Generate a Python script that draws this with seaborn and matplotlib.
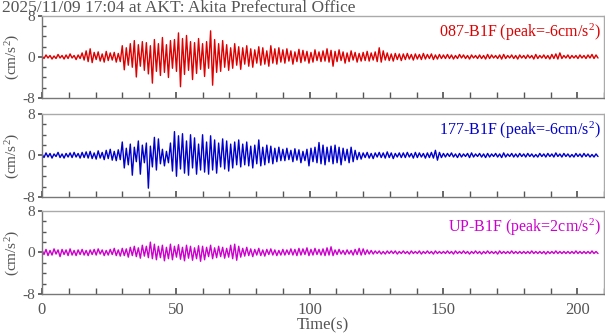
import numpy as np
import pandas as pd
import matplotlib
matplotlib.use("Agg")
from matplotlib import pyplot as plt
from matplotlib.ticker import MultipleLocator
import seaborn as sns

sns.set_theme(style="ticks")
plt.rcParams['font.family'] = ['Liberation Serif', 'DejaVu Serif']
plt.rcParams['mathtext.fontset'] = 'custom'
plt.rcParams['mathtext.rm'] = 'Liberation Serif'
plt.rcParams['mathtext.it'] = 'Liberation Serif:italic'

title = "2025/11/09 17:04 at AKT: Akita Prefectural Office"
dt = 0.75  # spacing of the picked extremes (s)

# successive extremes, 20 per 15 s
red_087 = """
0.2 -0.3 0.4 -0.2 0.3 -0.4 0.2 -0.3 0.5 -0.2 0.3 -0.4 0.4 -0.3 0.6 -0.2 0.3 -0.5 0.4 -0.3
0.8 -0.6 1.2 -0.9 1.6 -1.1 0.9 -0.5 1.0 -0.8 0.6 -1.0 1.1 -0.7 0.8 -0.6 0.9 -1.0 0.7 -0.9
2.2 -2.5 1.8 -1.6 2.6 -2.0 3.2 -3.9 2.4 -1.8 3.0 -2.6 2.8 -3.3 2.2 -5.1 3.4 -2.8 2.6 -3.6
3.8 -3.0 2.4 -4.0 3.2 -2.2 3.4 -2.8 4.7 -5.8 3.6 -3.4 4.2 -2.6 3.0 -4.4 2.8 -3.2 3.6 -2.4
2.6 -3.8 3.0 -2.2 5.1 -5.5 3.4 -3.0 2.6 -2.8 3.2 -2.0 2.4 -2.6 1.8 -2.2 2.6 -1.6 2.0 -2.4
1.8 -1.4 2.2 -1.8 1.6 -2.0 1.4 -1.2 2.0 -1.6 1.8 -1.4 1.2 -1.8 2.2 -1.2 1.6 -1.4 1.8 -1.0
1.4 -1.2 1.6 -0.8 1.2 -1.4 1.0 -0.9 1.5 -1.1 1.3 -0.8 1.1 -1.2 0.9 -1.0 1.4 -0.7 1.0 -0.9
1.2 -0.8 1.6 -1.0 1.3 -1.8 1.1 -0.9 1.4 -0.7 1.0 -1.2 0.8 -0.9 1.2 -0.6 0.9 -1.0 0.7 -0.8
0.9 -0.7 1.1 -0.8 0.8 -0.6 1.0 -0.9 1.8 -1.0 1.2 -0.6 0.8 -0.7 0.6 -0.8 0.7 -0.5 0.6 -0.7
0.6 -0.5 0.7 -0.4 0.5 -0.6 0.6 -0.4 0.5 -0.5 0.7 -0.4 0.5 -0.3 0.6 -0.5 0.4 -0.4 0.5 -0.3
0.4 -0.3 0.5 -0.3 0.4 -0.4 0.3 -0.3 0.5 -0.2 0.4 -0.3 0.3 -0.4 0.4 -0.2 0.3 -0.3 0.4 -0.3
0.3 -0.4 0.5 -0.3 0.4 -0.2 0.3 -0.3 0.4 -0.4 0.5 -0.3 0.3 -0.2 0.4 -0.3 0.3 -0.4 0.4 -0.2
0.3 -0.3 0.4 -0.2 0.3 -0.4 0.5 -0.3 0.3 -0.2 0.4 -0.3 0.3 -0.4 0.5 -0.3 0.6 -0.4 0.8 -0.3
0.3 -0.2 0.4 -0.3 0.3 -0.2 0.3 -0.3 0.4 -0.2 0.3 -0.3 0.4 -0.2 0.5 -0.3 0.4 -0.2
"""

blue_177 = """
0.3 -0.4 0.5 -0.3 0.4 -0.5 0.3 -0.2 0.6 -0.4 0.3 -0.5 0.4 -0.3 0.5 -0.4 0.6 -0.3 0.4 -0.5
0.6 -0.4 0.7 -0.5 0.8 -0.6 0.5 -0.7 0.9 -0.5 0.6 -0.8 1.0 -0.6 1.2 -0.9 0.8 -1.0 1.1 -0.8
2.6 -2.4 1.4 -1.8 2.2 -3.8 1.6 -1.2 2.8 -3.6 2.0 -1.4 2.4 -6.3 1.8 -2.2 3.5 -2.8 3.2 -1.6
1.2 -2.0 0.8 -1.4 2.4 -3.0 4.6 -4.0 3.8 -2.6 4.2 -3.4 2.8 -3.8 4.0 -2.4 3.4 -3.6 2.2 -2.8
4.0 -3.2 2.6 -3.6 3.8 -2.8 3.0 -3.4 2.4 -2.2 3.2 -2.6 2.8 -3.0 2.2 -2.4 2.6 -1.8 3.0 -2.2
2.2 -1.8 2.6 -2.0 1.8 -2.4 2.0 -1.6 3.0 -2.0 1.6 -1.8 2.0 -1.4 1.8 -1.6 1.4 -1.2 1.6 -1.0
1.2 -1.0 1.4 -0.8 1.0 -1.2 1.3 -0.9 1.1 -1.4 0.8 -1.0 1.2 -2.0 1.4 -1.2 1.6 -1.4 2.5 -1.6
2.0 -1.8 1.6 -1.2 1.8 -1.6 2.0 -1.4 1.6 -1.8 1.4 -1.0 1.2 -1.4 1.6 -1.2 1.0 -0.8 0.6 -0.7
0.5 -0.4 0.6 -0.5 0.4 -0.6 0.5 -0.3 0.6 -0.4 0.5 -0.5 0.7 -0.4 0.5 -0.6 0.4 -0.3 0.5 -0.4
0.5 -0.4 0.6 -0.3 0.4 -0.5 0.6 -0.4 0.5 -0.3 0.4 -0.5 0.5 -0.4 0.6 -0.5 1.0 -0.9 0.6 -0.4
0.4 -0.3 0.4 -0.2 0.5 -0.3 0.3 -0.4 0.4 -0.3 0.3 -0.2 0.4 -0.4 0.5 -0.3 0.3 -0.2 0.4 -0.3
0.3 -0.4 0.4 -0.3 0.3 -0.2 0.4 -0.3 0.3 -0.4 0.5 -0.3 0.3 -0.2 0.4 -0.3 0.3 -0.3 0.4 -0.2
0.3 -0.3 0.4 -0.2 0.3 -0.3 0.2 -0.3 0.4 -0.2 0.3 -0.3 0.4 -0.2 0.3 -0.3 0.5 -0.2 0.3 -0.3
0.4 -0.2 0.3 -0.3 0.2 -0.3 0.4 -0.2 0.3 -0.3 0.4 -0.2 0.3 -0.3 0.2 -0.3 0.3 -0.2
"""

mag_up = """
0.5 -0.4 0.6 -0.6 0.4 -0.5 0.7 -0.3 0.5 -0.8 0.6 -0.4 0.5 -0.6 0.7 -0.5 0.4 -0.6 0.5 -0.4
0.6 -0.5 0.4 -0.6 0.5 -0.4 0.6 -0.5 0.7 -0.3 0.5 -0.6 0.4 -0.5 0.6 -0.4 0.8 -0.6 0.5 -0.7
0.8 -0.6 0.7 -0.9 1.0 -0.6 1.2 -0.8 0.9 -1.1 1.4 -0.7 1.2 -1.0 2.0 -1.2 1.6 -1.4 1.2 -1.0
1.4 -1.6 1.0 -1.2 1.6 -1.4 1.2 -0.9 1.5 -1.3 1.0 -1.6 1.4 -1.1 1.2 -1.5 0.9 -1.2 1.3 -1.7
1.2 -1.4 1.0 -0.8 1.4 -1.2 0.9 -1.0 1.2 -0.8 1.0 -1.1 0.8 -0.9 1.4 -1.2 1.6 -1.5 1.2 -0.9
0.8 -0.7 1.0 -0.6 0.7 -0.8 0.6 -0.5 0.8 -0.6 0.5 -0.7 0.6 -0.4 0.7 -0.5 0.5 -0.6 0.4 -0.5
0.6 -0.5 0.5 -0.4 0.7 -0.5 0.6 -0.6 0.8 -0.5 0.7 -0.4 0.9 -0.6 0.6 -0.5 0.8 -0.4 0.6 -0.5
0.7 -0.6 0.9 -0.5 1.1 -0.6 0.5 -0.4 0.6 -0.3 0.4 -0.4 0.5 -0.3 0.4 -0.5 0.6 -0.4 0.8 -0.5
0.7 -0.4 0.5 -0.3 0.4 -0.3 0.3 -0.2 0.3 -0.3 0.2 -0.3 0.3 -0.2 0.3 -0.2 0.3 -0.3 0.2 -0.2
0.3 -0.2 0.2 -0.3 0.3 -0.2 0.2 -0.2 0.3 -0.3 0.2 -0.2 0.3 -0.2 0.2 -0.3 0.3 -0.2 0.2 -0.2
0.2 -0.2 0.3 -0.2 0.2 -0.3 0.3 -0.2 0.2 -0.2 0.3 -0.2 0.2 -0.3 0.2 -0.2 0.3 -0.2 0.2 -0.3
0.2 -0.2 0.3 -0.2 0.2 -0.2 0.2 -0.3 0.3 -0.2 0.2 -0.2 0.2 -0.2 0.3 -0.2 0.2 -0.2 0.2 -0.2
0.2 -0.2 0.2 -0.2 0.3 -0.2 0.2 -0.2 0.2 -0.2 0.2 -0.3 0.2 -0.2 0.2 -0.2 0.3 -0.2 0.2 -0.2
0.2 -0.2 0.2 -0.2 0.2 -0.2 0.3 -0.2 0.2 -0.2 0.2 -0.2 0.2 -0.2 0.3 -0.2 0.2 -0.2
"""

names = ["087-B1F (peak=-6cm/s$^2$)", "177-B1F (peak=-6cm/s$^2$)", "UP-B1F (peak=2cm/s$^2$)"]
colors = ["#dd0000", "#0000cc", "#cc00cc"]
traces = [red_087, blue_177, mag_up]

# axes boxes in figure fraction (left, bottom, width, height)
boxes = [(0.0694, 0.7066, 0.929, 0.2455),
         (0.0694, 0.4102, 0.929, 0.2485),
         (0.0694, 0.1198, 0.929, 0.2485)]

grey = "#555555"
fig = plt.figure(figsize=(6.05, 3.34), dpi=100)

for i, (txt, col, box) in enumerate(zip(traces, colors, boxes)):
    vals = np.array(txt.split(), dtype=float)
    df = pd.DataFrame({'t': np.arange(len(vals)) * dt, 'acc': vals})
    ax = fig.add_axes(box)
    sns.lineplot(ax=ax, data=df, x='t', y='acc', color=col, lw=1.0, estimator=None)
    ax.set_xlim(0, 210)
    ax.set_ylim(-8, 8)
    ax.set_yticks([-8, 0, 8])
    ax.set_yticklabels(['-8', '0', '8'])
    ax.yaxis.set_minor_locator(MultipleLocator(2))
    ax.xaxis.set_major_locator(MultipleLocator(50))
    ax.xaxis.set_minor_locator(MultipleLocator(10))
    ax.tick_params(axis='x', which='both', direction='in', length=4, color=grey,
                   labelsize=12, labelcolor=grey, pad=6)
    ax.tick_params(axis='y', which='major', direction='out', length=3, color=grey,
                   labelsize=11, labelcolor=grey, pad=2)
    ax.tick_params(axis='y', which='minor', direction='in', length=3, color=grey)
    for s in ['left', 'bottom']:
        ax.spines[s].set_color("#777777")
    for s in ['top', 'right']:
        ax.spines[s].set_color("#aaaaaa")
    for s in ax.spines.values():
        s.set_linewidth(1.0)
    ax.set_ylabel("(cm/s$^2$)", fontsize=11, color=grey)
    ax.yaxis.set_label_coords(-0.036, 0.5)
    ax.text(0.995, 0.93, names[i], transform=ax.transAxes, ha='right', va='top',
            fontsize=11.5, color=col)
    if i < 2:
        ax.set_xlabel('')
        ax.set_xticklabels([])
    else:
        ax.set_xlabel("Time(s)", fontsize=12, color=grey, labelpad=-1)

fig.text(0.004, 1.0, title, ha='left', va='top', fontsize=12.5, color=grey)

plt.savefig("out.png", dpi=100)
